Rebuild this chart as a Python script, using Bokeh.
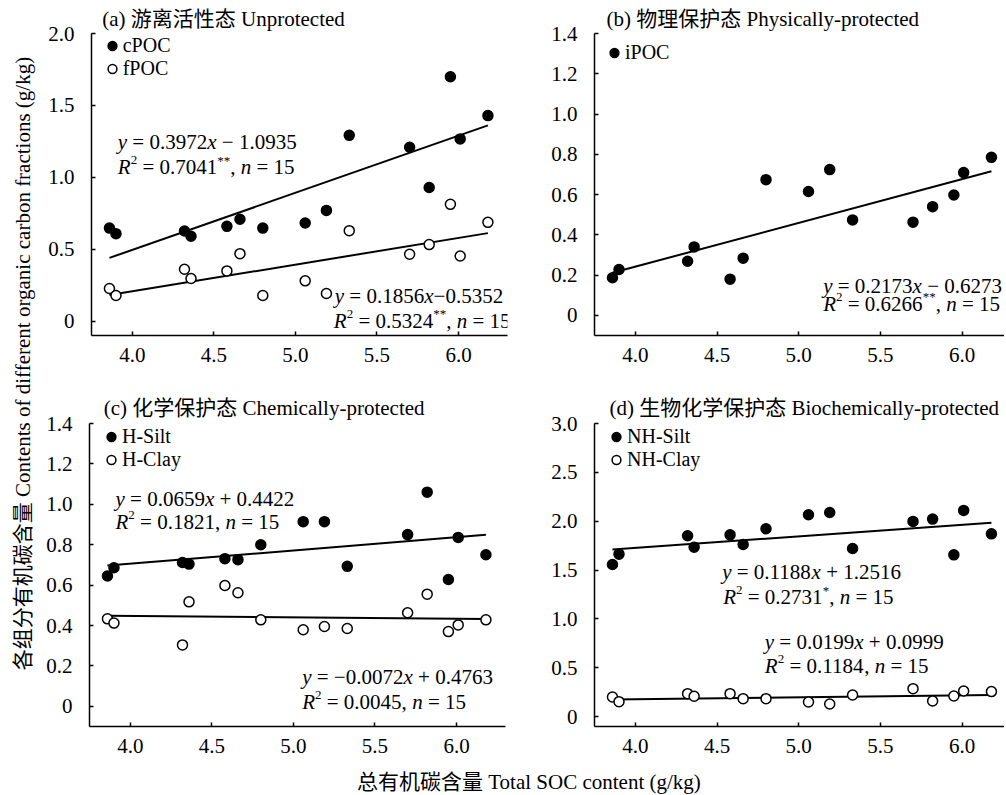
import math
from bokeh.plotting import figure
from bokeh.models import Range1d, FixedTicker, NumeralTickFormatter, Label, Legend, LegendItem
from bokeh.layouts import row, column
from bokeh.embed import file_html
from bokeh.resources import INLINE

# ---------------- data ----------------
toc = [3.86, 3.90, 4.32, 4.36, 4.58, 4.66, 4.80, 5.06, 5.19, 5.33, 5.70, 5.82, 5.95, 6.01, 6.18]

cpoc = [0.647, 0.608, 0.627, 0.590, 0.659, 0.708, 0.647, 0.682, 0.770, 1.292, 1.209, 0.929, 1.699, 1.267, 1.429]
fpoc = [0.227, 0.178, 0.361, 0.296, 0.349, 0.469, 0.178, 0.280, 0.192, 0.629, 0.465, 0.532, 0.812, 0.453, 0.687]
ipoc = [0.187, 0.228, 0.269, 0.340, 0.180, 0.284, 0.674, 0.615, 0.724, 0.474, 0.463, 0.540, 0.598, 0.709, 0.785]
h_silt = [0.645, 0.686, 0.712, 0.704, 0.731, 0.726, 0.800, 0.914, 0.914, 0.693, 0.850, 1.060, 0.628, 0.836, 0.750]
h_clay = [0.433, 0.412, 0.304, 0.517, 0.598, 0.562, 0.428, 0.379, 0.395, 0.385, 0.463, 0.555, 0.370, 0.403, 0.428]
nh_silt = [1.557, 1.663, 1.851, 1.735, 1.861, 1.762, 1.923, 2.066, 2.090, 1.721, 1.998, 2.022, 1.656, 2.111, 1.871]
nh_clay = [0.202, 0.154, 0.236, 0.209, 0.236, 0.185, 0.185, 0.151, 0.130, 0.222, 0.287, 0.161, 0.212, 0.263, 0.257]

# regression coefficients (slope, intercept) as printed in the chart
fit_cpoc = (0.3972, -1.0935)
fit_fpoc = (0.1856, -0.5352)
fit_ipoc = (0.2173, -0.6273)
fit_h_silt = (0.0659, 0.4422)
fit_h_clay = (-0.0072, 0.4763)
fit_nh_silt = (0.1188, 1.2516)
fit_nh_clay = (0.0199, 0.0999)

titles = ["(a) 游离活性态 Unprotected",
          "(b) 物理保护态 Physically-protected",
          "(c) 化学保护态 Chemically-protected",
          "(d) 生物化学保护态 Biochemically-protected"]

x_ticks = [4.0, 4.5, 5.0, 5.5, 6.0]
y_ticks_a = [0, 0.5, 1.0, 1.5, 2.0]
y_ticks_b = [0, 0.2, 0.4, 0.6, 0.8, 1.0, 1.2, 1.4]
y_ticks_c = [0, 0.2, 0.4, 0.6, 0.8, 1.0, 1.2, 1.4]
y_ticks_d = [0, 0.5, 1.0, 1.5, 2.0, 2.5, 3.0]

x_label = "总有机碳含量 Total  SOC content (g/kg)"
y_label = "各组分有机碳含量 Contents of different organic carbon fractions (g/kg)"

# equations as (text, style) segments: n = normal, i = italic, s = superscript
def eq_lines(slope_txt, icpt_txt, r2_txt, star):
    l1 = [("y", "i"), (" = " + slope_txt, "n"), ("x", "i"), (icpt_txt, "n")]
    l2 = [("R", "i"), ("2", "s"), (" = " + r2_txt, "n")]
    if star:
        l2.append((star, "s"))
    l2 += [(", ", "n"), ("n", "i"), (" = 15", "n")]
    return l1, l2

eq_cpoc = eq_lines("0.3972", " − 1.0935", "0.7041", "**")
eq_fpoc = eq_lines("0.1856", "−0.5352", "0.5324", "**")
eq_ipoc = eq_lines("0.2173", " − 0.6273", "0.6266", "**")
eq_h_silt = eq_lines("0.0659", " + 0.4422", "0.1821", "")
eq_h_clay = [[("y", "i"), (" = −0.0072", "n"), ("x", "i"), (" + 0.4763", "n")],
             [("R", "i"), ("2", "s"), (" = 0.0045, ", "n"), ("n", "i"), (" = 15", "n")]]
eq_nh_silt = eq_lines("0.1188", " + 1.2516", "0.2731", "*")
eq_nh_clay = eq_lines("0.0199", " + 0.0999", "0.1184", "")

# ---------------- styling ----------------
FONT = "'Liberation Serif', 'Noto Sans CJK SC'"
FS = 21
LFS = 20
SUP = 13
RAISE = 7
W_REG = {'.': 0.25, ',': 0.25, ' ': 0.25, '=': 0.564, '+': 0.564, '−': 0.564, '*': 0.5}
W_IT = {'y': 0.444, 'x': 0.444, 'n': 0.5, 'R': 0.611}


def seg_width(txt, st):
    if st == "i":
        return sum(W_IT.get(c, 0.5) for c in txt)
    return sum(W_REG.get(c, 0.5) for c in txt)


def add_segments(p, x, y, parts):
    off = 0.0
    for txt, st in parts:
        fs = SUP if st == "s" else FS
        yy = y + RAISE if st == "s" else y
        lead = len(txt) - len(txt.lstrip(" "))
        shown = txt.strip(" ")
        if shown:
            p.add_layout(Label(x=x, y=yy, x_units="screen", y_units="screen",
                               x_offset=off + lead * 0.25 * fs, text=shown,
                               text_font=FONT, text_font_size=f"{fs}px",
                               text_font_style="italic" if st == "i" else "normal",
                               text_baseline="middle", text_align="left",
                               text_color="black"))
        off += seg_width(txt, st) * fs


def make_panel(bl, fw, br, bt, fh, bb, xr, yr, yticks, title, t_off, t_stand):
    p = figure(width=bl + fw + br, height=bt + fh + bb,
               x_range=Range1d(*xr), y_range=Range1d(*yr),
               output_backend="svg", toolbar_location=None,
               min_border_left=bl, min_border_right=br,
               min_border_top=bt, min_border_bottom=bb)
    p.title.text = title
    p.title.align = "left"
    p.title.offset = t_off
    p.title.standoff = t_stand
    p.title.text_font = FONT
    p.title.text_font_size = f"{FS}px"
    p.title.text_font_style = "normal"
    p.title.text_color = "black"
    p.grid.visible = False
    p.outline_line_color = None
    p.background_fill_color = "white"
    p.border_fill_color = "white"
    p.xaxis.ticker = FixedTicker(ticks=x_ticks)
    p.yaxis.ticker = FixedTicker(ticks=yticks)
    p.xaxis.formatter = NumeralTickFormatter(format="0.0")
    p.yaxis.formatter = NumeralTickFormatter(format="0.0")
    p.yaxis.major_label_overrides = {0: "0"}
    for ax in (p.xaxis, p.yaxis):
        ax.axis_line_color = "black"
        ax.axis_line_width = 1.5
        ax.major_tick_line_color = "black"
        ax.major_tick_line_width = 1.5
        ax.major_tick_in = 4
        ax.major_tick_out = 0
        ax.minor_tick_line_color = None
        ax.major_label_text_font = FONT
        ax.major_label_text_font_size = f"{FS}px"
        ax.major_label_text_color = "black"
    p.xaxis.major_label_standoff = 12
    p.yaxis.major_label_standoff = 17
    return p


def add_series(p, ys, fit, filled):
    x0, x1 = min(toc), max(toc)
    p.line([x0, x1], [fit[0] * x0 + fit[1], fit[0] * x1 + fit[1]],
           line_color="black", line_width=2)
    r = p.scatter(toc, ys, marker="circle", size=10,
                  fill_color="black" if filled else "white",
                  line_color="black", line_width=1.5)
    return r


ROW_H = 23
GW = 22


def add_legend_item(p, label, rend, cx, cy, fh):
    # cx, cy: centre of the legend marker relative to frame left / top
    lg = Legend(items=[LegendItem(label=label, renderers=[rend])],
                location=(cx - GW / 2, fh - cy - ROW_H / 2),
                orientation="vertical", background_fill_alpha=0,
                border_line_color=None, padding=0, spacing=0, margin=0,
                glyph_width=GW, glyph_height=ROW_H, label_height=ROW_H,
                label_standoff=0, label_text_font=FONT,
                label_text_font_size=f"{LFS}px", label_text_color="black")
    p.add_layout(lg)


# ---------------- panels ----------------
FH1, FH2 = 302, 303
pa = make_panel(53, 416, 33, 33, FH1, 50, (3.75, 6.30), (-0.1, 2.0), y_ticks_a, titles[0], 10.7, 5)
r1 = add_series(pa, cpoc, fit_cpoc, True)
r2 = add_series(pa, fpoc, fit_fpoc, False)
add_legend_item(pa, "cPOC", r1, 20.7, 12.2, FH1)
add_legend_item(pa, "fPOC", r2, 20.7, 35.4, FH1)
add_segments(pa, 26.3, 193.3, eq_cpoc[0])
add_segments(pa, 26.3, 168.3, eq_cpoc[1])
add_segments(pa, 243.3, 40, eq_fpoc[0])
add_segments(pa, 242.3, 15, eq_fpoc[1])

pb = make_panel(54, 410, 0, 33, FH1, 50, (3.75, 6.26), (-0.1, 1.4), y_ticks_b, titles[1], 12, 5)
r3 = add_series(pb, ipoc, fit_ipoc, True)
add_legend_item(pb, "iPOC", r3, 20, 19.3, FH1)
add_segments(pb, 228.7, 49.3, eq_ipoc[0])
add_segments(pb, 228.7, 31.7, eq_ipoc[1])

pc = make_panel(51, 416, 35, 38, FH2, 36, (3.75, 6.30), (-0.1, 1.4), y_ticks_c, titles[2], 14.3, 8)
r4 = add_series(pc, h_silt, fit_h_silt, True)
r5 = add_series(pc, h_clay, fit_h_clay, False)
add_legend_item(pc, "H-Silt", r4, 22, 13.4, FH2)
add_legend_item(pc, "H-Clay", r5, 22, 36.6, FH2)
add_segments(pc, 26, 227.7, eq_h_silt[0])
add_segments(pc, 26, 204.3, eq_h_silt[1])
add_segments(pc, 212.7, 49.3, eq_h_clay[0])
add_segments(pc, 212.7, 24.3, eq_h_clay[1])

pd_ = make_panel(54, 410, 0, 38, FH2, 36, (3.75, 6.26), (-0.1, 3.0), y_ticks_d, titles[3], 15, 8)
r6 = add_series(pd_, nh_silt, fit_nh_silt, True)
r7 = add_series(pd_, nh_clay, fit_nh_clay, False)
add_legend_item(pd_, "NH-Silt", r6, 22, 13.4, FH2)
add_legend_item(pd_, "NH-Clay", r7, 22, 36.6, FH2)
add_segments(pd_, 127.7, 154.3, eq_nh_silt[0])
add_segments(pd_, 128.7, 129.3, eq_nh_silt[1])
add_segments(pd_, 170.3, 84.3, eq_nh_clay[0])
add_segments(pd_, 170.3, 61, eq_nh_clay[1])


def blank(w, h):
    f = figure(width=w, height=h, x_range=Range1d(0, w), y_range=Range1d(0, h),
               output_backend="svg", toolbar_location=None,
               x_axis_type=None, y_axis_type=None,
               min_border=0, min_border_left=0, min_border_right=0,
               min_border_top=0, min_border_bottom=0)
    f.grid.visible = False
    f.outline_line_color = None
    f.background_fill_color = "white"
    f.border_fill_color = "white"
    return f


ylab = blank(38, 762)
ylab.add_layout(Label(x=22, y=762 - 363, text=y_label, angle=math.pi / 2,
                      text_font=FONT, text_font_size=f"{FS}px",
                      text_align="center", text_baseline="middle", text_color="black"))

xlab = blank(966, 32)
xlab.add_layout(Label(x=531 - 38, y=13, text=x_label,
                      text_font=FONT, text_font_size=f"{FS}px",
                      text_align="center", text_baseline="middle", text_color="black"))

layout = row(ylab, column(row(pa, pb, spacing=0), row(pc, pd_, spacing=0), xlab, spacing=0), spacing=0)

open("out.html", "w").write(file_html(layout, INLINE))
